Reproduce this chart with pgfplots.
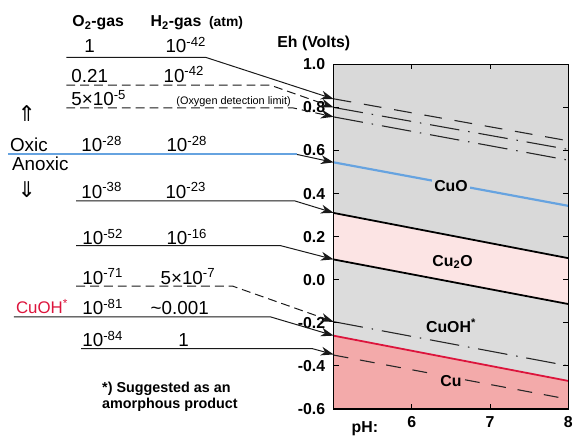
\documentclass[border=0pt]{standalone}
\usepackage{pgfplots}
\pgfplotsset{compat=1.18}
\usepackage{fontspec}
\setmainfont{Liberation Sans}
\newfontfamily\dejavu{DejaVu Sans}
\definecolor{gA}{HTML}{D9D9D9}
\definecolor{gB}{HTML}{DCDCDC}
\definecolor{pL}{HTML}{FCE4E4}
\definecolor{pD}{HTML}{F3AAAA}
\definecolor{cublue}{HTML}{66A3E0}
\definecolor{cured}{HTML}{DC143C}
\newcommand{\fs}[1]{\fontsize{#1}{#1}\selectfont}
\begin{document}
\begin{tikzpicture}
\begin{scope}[x=1pt,y=-1pt]
\path[use as bounding box] (0,0) rectangle (576,440);
\end{scope}
\begin{axis}[at={(337pt,-413pt)}, anchor=south west, scale only axis,
  width=237pt, height=348pt,
  xmin=5, xmax=8, ymin=-0.6, ymax=1.0,
  xtick={6,7,8}, xticklabels={6,7,8},
  ytick={-0.6,-0.4,-0.2,0,0.2,0.4,0.6,0.8,1.0},
  yticklabels={-0.6,-0.4,-0.2,0.0,0.2,0.4,0.6,0.8,1.0},
  tick align=inside, major tick length=5pt,
  axis line style={line width=1.5pt},
  every tick/.style={black, line width=0.9pt},
  tick label style={font=\bfseries\fs{16}},
  xticklabel style={yshift=-4pt},
  yticklabel style={xshift=-5pt},
  axis on top]
% regions
\addplot[fill=gA, draw=none] coordinates {(5,1.0) (8,1.0) (8,0.10) (5,0.31)} -- cycle;
\addplot[fill=pL, draw=none] coordinates {(5,0.31) (8,0.10) (8,-0.113) (5,0.094)} -- cycle;
\addplot[fill=gB, draw=none] coordinates {(5,0.094) (8,-0.113) (8,-0.47) (5,-0.26)} -- cycle;
\addplot[fill=pD, draw=none] coordinates {(5,-0.26) (8,-0.47) (8,-0.6) (5,-0.6)} -- cycle;
% boundary lines
\addplot[black!85, line width=1.1pt, dash pattern=on 18pt off 13pt] coordinates {(5,0.84) (8,0.645)};
\addplot[black!85, line width=1.1pt, dash pattern=on 30pt off 9pt on 1.5pt off 9pt] coordinates {(5,0.80) (8,0.605)};
\addplot[black!85, line width=1.1pt, dash pattern=on 30pt off 9pt on 1.5pt off 9pt] coordinates {(5,0.756) (8,0.555)};
\addplot[cublue, line width=2.2pt] coordinates {(5,0.545) (8,0.343)};
\addplot[black, line width=1.8pt] coordinates {(5,0.31) (8,0.10)};
\addplot[black, line width=1.8pt] coordinates {(5,0.094) (8,-0.113)};
\addplot[black!85, line width=1.1pt, dash pattern=on 30pt off 9pt on 1.5pt off 9pt] coordinates {(5,-0.195) (8,-0.40)};
\addplot[cured, line width=1.8pt] coordinates {(5,-0.26) (8,-0.47)};
\addplot[black!85, line width=1.1pt, dash pattern=on 15pt off 12pt] coordinates {(5,-0.35) (8,-0.555)};
% region labels
\node[anchor=base, font=\bfseries\fs{16}, fill=gA, inner sep=2pt] at (axis cs:6.5,0.411) {CuO};
\node[anchor=base, font=\bfseries\fs{16}] at (axis cs:6.52,0.062) {Cu\textsubscript{2}O};
\node[anchor=base, font=\bfseries\fs{16}] at (axis cs:6.5,-0.246) {CuOH\textsuperscript{*}};
\node[anchor=base, font=\bfseries\fs{16}, fill=pD, inner sep=2pt] at (axis cs:6.5,-0.494) {Cu};
\end{axis}
\begin{scope}[x=1pt,y=-1pt, every node/.style={anchor=base west, inner sep=0pt, font=\fs{19}}]
% headers
\node[font=\bfseries\fs{16}] at (73,27) {O\textsubscript{2}-gas};
\node[font=\bfseries\fs{16}] at (152,27) {H\textsubscript{2}-gas};
\node[font=\bfseries\fs{14}] at (211,27) {(atm)};
\node[font=\bfseries\fs{16}] at (280,48) {Eh (Volts)};
% rows
\node at (85,53) {1};
\node at (167,53) {10\textsuperscript{-42}};
\node at (72,83) {0.21};
\node at (165,83) {10\textsuperscript{-42}};
\node at (72,107) {5×10\textsuperscript{-5}};
\node[font=\fs{11}] at (178,106) {(Oxygen detection limit)};
\node at (10,153) {Oxic};
\node at (82,153) {10\textsuperscript{-28}};
\node at (168,153) {10\textsuperscript{-28}};
\node at (12,172) {Anoxic};
\node[anchor=center, font=\dejavu\fs{22}] at (27,115) {⇑};
\node[anchor=center, font=\dejavu\fs{22}] at (27,191) {⇓};
\node at (82,200) {10\textsuperscript{-38}};
\node at (167,200) {10\textsuperscript{-23}};
\node at (83,247) {10\textsuperscript{-52}};
\node at (168,247) {10\textsuperscript{-16}};
\node at (83,287) {10\textsuperscript{-71}};
\node at (162,287) {5×10\textsuperscript{-7}};
\node[font=\fs{17}, text=cured] at (16,317) {CuOH\textsuperscript{*}};
\node at (83,318) {10\textsuperscript{-81}};
\node at (152,318) {\textasciitilde 0.001};
\node at (83,350) {10\textsuperscript{-84}};
\node at (180,350) {1};
\node[font=\bfseries\fs{14.5}] at (103,396) {*) Suggested as an};
\node[font=\bfseries\fs{14.5}] at (103,413) {amorphous product};
\node[font=\bfseries\fs{16}] at (355,437) {pH:};
% leader lines
\draw[cublue, line width=2pt] (8,156) -- (300,156);
\draw[line width=1pt, black!90] (67,58) -- (208,58) -- (330,97.7);
\draw[line width=1pt, black!90, dash pattern=on 9pt off 5pt] (67,86) -- (273,86) -- (330,106);
\draw[line width=1pt, black!90, dash pattern=on 9pt off 5pt] (67,109) -- (296,109) -- (330,116.5);
\draw[line width=1pt, black!90] (300,156) -- (330,162.5);
\draw[line width=1pt, black!90] (77,203) -- (298,203) -- (330,212.8);
\draw[line width=1pt, black!90] (77,248) -- (283,248) -- (330,260.2);
\draw[line width=1pt, black!90, dash pattern=on 9pt off 5pt] (77,289) -- (235,289) -- (330,322.5);
\draw[line width=1pt, black!90] (14,320) -- (273,320) -- (330,336.9);
\draw[line width=1pt, black!90] (82,352) -- (315,352) -- (330,356.1);
% arrow heads
\fill[black!90] (337,100) -- (323.25,100.26) -- (328.44,97.21) -- (326.03,91.70) -- cycle;
\fill[black!90] (337,108.5) -- (323.25,108.44) -- (328.51,105.51) -- (326.23,99.94) -- cycle;
\fill[black!90] (337,118) -- (323.34,119.61) -- (328.21,116.07) -- (325.27,110.82) -- cycle;
\fill[black!90] (337,164) -- (323.34,165.65) -- (328.20,162.10) -- (325.24,156.85) -- cycle;
\fill[black!90] (337,215) -- (323.25,215.48) -- (328.40,212.35) -- (325.90,206.88) -- cycle;
\fill[black!90] (337,262) -- (323.29,263.10) -- (328.29,259.74) -- (325.55,254.38) -- cycle;
\fill[black!90] (337,325) -- (323.24,324.91) -- (328.51,322.00) -- (326.24,316.43) -- cycle;
\fill[black!90] (337,339) -- (323.26,339.61) -- (328.37,336.44) -- (325.82,330.99) -- cycle;
\fill[black!90] (337,358) -- (323.28,358.92) -- (328.32,355.63) -- (325.64,350.24) -- cycle;
\end{scope}
\end{tikzpicture}
\end{document}
